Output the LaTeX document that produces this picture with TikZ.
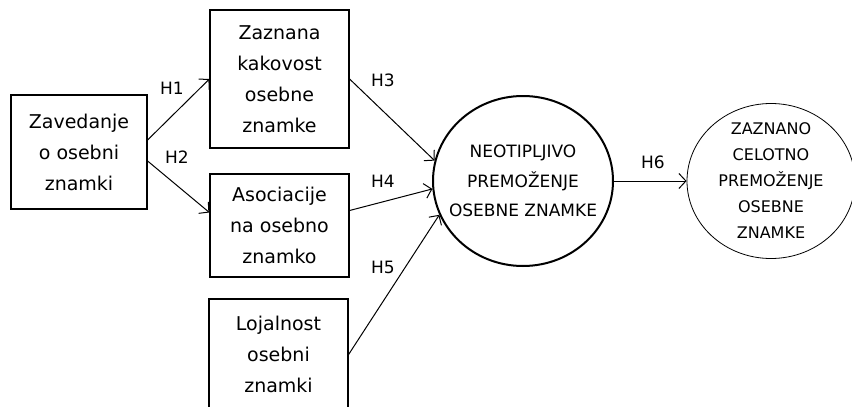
\documentclass[tikz,border=0pt]{standalone}
\usepackage{fontspec}
\setmainfont{DejaVu Sans}
\usetikzlibrary{arrows.meta, positioning, shapes.geometric}

\begin{document}
\begin{tikzpicture}[
    x=1pt, y=-1pt,
    box/.style={rectangle, draw=black, line width=1.2pt, align=center, inner sep=2pt, font=\fontsize{19}{31}\selectfont},
    latent/.style={ellipse, draw=black, align=center, inner sep=0pt},
    hyp/.style={-{Straight Barb[length=7pt, width=15pt]}, line width=1pt},
    hlab/.style={font=\fontsize{17}{20}\selectfont, inner sep=1pt}
]
    \useasboundingbox (0,0) rectangle (852,407);

    % Boxes
    \node[box, minimum width=136pt, minimum height=114pt] (zav) at (79,152) {Zavedanje\\o osebni\\znamki};
    \node[box, minimum width=139pt, minimum height=138pt] (zaz) at (279.5,79) {Zaznana\\kakovost\\osebne\\znamke};
    \node[box, minimum width=139pt, minimum height=103pt] (aso) at (279.5,225.5) {Asociacije\\na osebno\\znamko};
    \node[box, minimum width=139pt, minimum height=111pt] (loj) at (278.5,354.5) {Lojalnost\\osebni\\znamki};

    % Latent constructs
    \node[latent, line width=2pt, inner xsep=-11pt, minimum width=180pt, minimum height=170pt, font=\fontsize{17}{29.5}\selectfont] (neo) at (523,181) {NEOTIPLJIVO\\PREMOŽENJE\\OSEBNE ZNAMKE};
    \node[latent, line width=0.8pt, inner ysep=-6pt, minimum width=168pt, minimum height=155pt, font=\fontsize{16}{26}\selectfont] (cel) at (771,181) {ZAZNANO\\CELOTNO\\PREMOŽENJE\\OSEBNE\\ZNAMKE};

    % Paths
    \draw[hyp] ([yshift=12pt]zav.east) -- (zaz.west);
    \draw[hyp] ([yshift=-9pt]zav.east) -- ([yshift=13pt]aso.west);
    \draw[hyp] (zaz.east) -- (neo.167);
    \draw[hyp] ([yshift=15pt]aso.east) -- (neo.185);
    \draw[hyp] (loj.east) -- (neo.202);
    \draw[hyp] (neo.east) -- (cel.west);

    % Hypotheses
    \node[hlab] (h1) at (172,88) {H1};
    \node[hlab] (h2) at (177,157) {H2};
    \node[hlab] (h3) at (383,80) {H3};
    \node[hlab] (h4) at (383,181) {H4};
    \node[hlab] (h5) at (383,267) {H5};
    \node[hlab] (h6) at (653,162) {H6};
\end{tikzpicture}
\end{document}
